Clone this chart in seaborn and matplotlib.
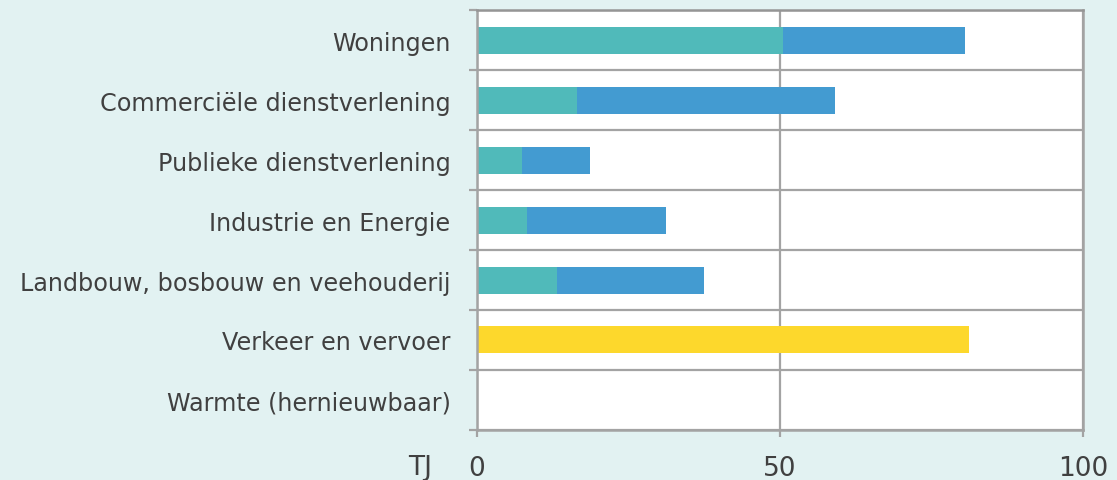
import numpy as np
import matplotlib.pyplot as plt
import seaborn as sns

categories = ['Woningen', 'Commerciële dienstverlening', 'Publieke dienstverlening',
              'Industrie en Energie', 'Landbouw, bosbouw en veehouderij',
              'Verkeer en vervoer', 'Warmte (hernieuwbaar)']
teal_vals = np.array([50.5, 16.5, 7.4, 8.3, 13.2, 0, 0])
blue_vals = np.array([30.0, 42.6, 11.2, 22.9, 24.3, 0, 0])
yellow_vals = np.array([0, 0, 0, 0, 0, 81.2, 0])
x_ticks = [0, 50, 100]

bg = '#e2f2f2'
grid_c = '#a3a3a3'
text_c = '#404040'

sns.set_style('white')
plt.rcParams['font.family'] = ['DejaVu Sans']

fig = plt.figure(figsize=(11.17, 4.81), dpi=100, facecolor=bg)
ax = fig.add_axes([0.427, 0.104, 0.5426, 0.873])
ax.set_facecolor('white')

# stacked bars: full length first, teal part on top
sns.barplot(x=teal_vals + blue_vals, y=categories, color='#439bd1', width=0.45,
            orient='h', ax=ax, saturation=1, linewidth=0)
sns.barplot(x=teal_vals, y=categories, color='#50baba', width=0.45,
            orient='h', ax=ax, saturation=1, linewidth=0)
sns.barplot(x=yellow_vals, y=categories, color='#fdd82c', width=0.45,
            orient='h', ax=ax, saturation=1, linewidth=0)

ax.set_xlim(0, 100)
ax.set_ylim(6.5, -0.5)
ax.set_xticks(x_ticks)
ax.set_xlabel('')
ax.set_ylabel('')

# category separators
ax.set_yticks(np.arange(-0.5, 7.0, 1.0), minor=True)
ax.grid(True, which='minor', axis='y', color=grid_c, lw=1.6)
ax.grid(True, which='major', axis='x', color=grid_c, lw=1.6)
ax.set_axisbelow(True)

ax.tick_params(axis='y', which='major', length=0, pad=19, labelsize=17.2, labelcolor=text_c)
ax.tick_params(axis='y', which='minor', length=6, width=1.6, color=grid_c, left=True)
ax.tick_params(axis='x', length=5, width=1.6, color=grid_c, pad=13, labelsize=19, labelcolor=text_c,
               bottom=True)

for s in ax.spines.values():
    s.set_color(grid_c)
    s.set_linewidth(1.8)
ax.spines['top'].set_color('#959595')

fig.text(0.376, 0.026, 'TJ', fontsize=19, color=text_c, ha='center', va='center')

fig.savefig('out.png', dpi=100, facecolor=bg)
